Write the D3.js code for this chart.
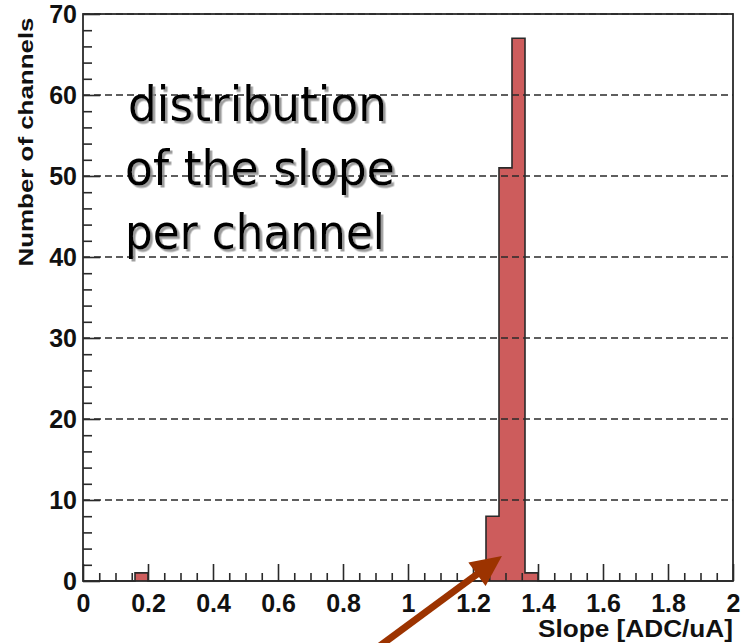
<!DOCTYPE html>
<html>
<head>
<meta charset="utf-8">
<script src="https://cdn.jsdelivr.net/npm/d3@7"></script>
<style>
  html, body { margin: 0; padding: 0; background: #fff; }
  svg { display: block; }
</style>
</head>
<body>
<svg id="chart" width="751" height="643"></svg>
<script>
// Histogram of the fitted slope per channel (ADC counts per uA), 0.04 wide bins
const binWidth = 0.04;
const binStarts = [0.16, 1.24, 1.28, 1.32, 1.36];
const binCounts = [1, 8, 51, 67, 1];

const xMajorTicks = [0, 0.2, 0.4, 0.6, 0.8, 1, 1.2, 1.4, 1.6, 1.8, 2];
const xTickLabels = ["0", "0.2", "0.4", "0.6", "0.8", "1", "1.2", "1.4", "1.6", "1.8", "2"];
const yMajorTicks = [0, 10, 20, 30, 40, 50, 60, 70];
const yTickLabels = ["0", "10", "20", "30", "40", "50", "60", "70"];

const xTitle = "Slope [ADC/uA]";
const yTitle = "Number of  channels";
const noteLines = ["distribution", "of the slope", "per channel"];

const svg = d3.select("#chart");
const frame = { left: 83, right: 733, top: 14, bottom: 581 };

const x = d3.scaleLinear().domain([0, 2]).range([frame.left, frame.right]);
const y = d3.scaleLinear().domain([0, 70]).range([frame.bottom, frame.top]);

// Drop shadow used by the annotation text
const defs = svg.append("defs");
const shadow = defs.append("filter").attr("id", "softShadow")
  .attr("x", "-5%").attr("y", "-10%").attr("width", "115%").attr("height", "130%");
shadow.append("feDropShadow")
  .attr("dx", 2.5).attr("dy", 2.5).attr("stdDeviation", 0.6)
  .attr("flood-color", "#8c8c8c").attr("flood-opacity", 0.85);

// Full set of bins across the axis range (empty bins count zero)
const nBins = Math.round(2 / binWidth);
const allBins = d3.range(nBins).map(i => {
  const lo = i * binWidth;
  const k = binStarts.findIndex(s => Math.abs(s - lo) < 1e-6);
  return { lo, count: k >= 0 ? binCounts[k] : 0 };
});

// Filled bars
svg.append("g").selectAll("rect")
  .data(binStarts.map((s, i) => ({ lo: s, count: binCounts[i] })))
  .join("rect")
  .attr("x", d => x(d.lo))
  .attr("y", d => y(d.count))
  .attr("width", d => x(d.lo + binWidth) - x(d.lo))
  .attr("height", d => y(0) - y(d.count))
  .attr("fill", "#cd5c5c");

// Step outline of the histogram
const stepPts = allBins.map(b => [b.lo, b.count]);
stepPts.push([2, allBins[nBins - 1].count]);
svg.append("path")
  .attr("d", d3.line().x(d => x(d[0])).y(d => y(d[1])).curve(d3.curveStepAfter)(stepPts))
  .attr("fill", "none")
  .attr("stroke", "#2a2a2a")
  .attr("stroke-width", 1.6);

// Dashed horizontal grid, drawn over the bars
svg.append("g").selectAll("line")
  .data(yMajorTicks.filter(v => v > 0))
  .join("line")
  .attr("x1", frame.left).attr("x2", frame.right)
  .attr("y1", d => y(d)).attr("y2", d => y(d))
  .attr("stroke", "#2a2a2a")
  .attr("stroke-width", 1.3)
  .attr("stroke-dasharray", "7,4");

const tickFont = "'Liberation Sans', Arial, sans-serif";

// X axis: minor ticks every 0.05, major every 0.2, all pointing inward
const xMinor = d3.range(0, 2.0001, 0.05).filter(v => xMajorTicks.every(m => Math.abs(m - v) > 1e-6));
svg.append("g")
  .attr("transform", `translate(0,${frame.bottom})`)
  .call(d3.axisBottom(x).tickValues(xMinor).tickSize(-8).tickFormat(""))
  .call(g => g.select(".domain").remove());
const gx = svg.append("g")
  .attr("transform", `translate(0,${frame.bottom})`)
  .call(d3.axisBottom(x).tickValues(xMajorTicks).tickSize(-17).tickPadding(13)
    .tickFormat((d, i) => xTickLabels[i]));
gx.select(".domain").remove();
gx.selectAll("text")
  .attr("font-family", tickFont).attr("font-weight", "bold")
  .attr("font-size", 25).attr("fill", "#111");

// Y axis: minor ticks every 2, major every 10
const yMinor = d3.range(0, 70.001, 2).filter(v => v % 10 !== 0);
svg.append("g")
  .attr("transform", `translate(${frame.left},0)`)
  .call(d3.axisLeft(y).tickValues(yMinor).tickSize(-9).tickFormat(""))
  .call(g => g.select(".domain").remove());
const gy = svg.append("g")
  .attr("transform", `translate(${frame.left},0)`)
  .call(d3.axisLeft(y).tickValues(yMajorTicks).tickSize(-17).tickPadding(6)
    .tickFormat((d, i) => yTickLabels[i]));
gy.select(".domain").remove();
gy.selectAll("text")
  .attr("font-family", tickFont).attr("font-weight", "bold")
  .attr("font-size", 25).attr("fill", "#111");
svg.selectAll(".tick line").attr("stroke", "#2a2a2a").attr("stroke-width", 1.6);

// Plot frame
svg.append("rect")
  .attr("x", frame.left).attr("y", frame.top)
  .attr("width", frame.right - frame.left).attr("height", frame.bottom - frame.top)
  .attr("fill", "none").attr("stroke", "#2a2a2a").attr("stroke-width", 1.8);

// Axis titles
svg.append("text")
  .attr("x", frame.right).attr("y", 637)
  .attr("text-anchor", "end")
  .attr("font-family", tickFont).attr("font-weight", "bold")
  .attr("font-size", 23).attr("fill", "#111")
  .attr("textLength", 195).attr("lengthAdjust", "spacingAndGlyphs")
  .text(xTitle);

svg.append("text")
  .attr("transform", "translate(33,142) rotate(-90)")
  .attr("text-anchor", "middle")
  .attr("font-family", tickFont).attr("font-weight", "bold")
  .attr("font-size", 20).attr("fill", "#111")
  .attr("textLength", 249).attr("lengthAdjust", "spacingAndGlyphs")
  .text(yTitle);

// Annotation text with a drop shadow
const noteBase = [121, 185, 249];
const noteWidth = [259, 270, 260];
const noteCenter = [257.5, 260, 255];
svg.append("g").attr("filter", "url(#softShadow)")
  .selectAll("text")
  .data(noteLines)
  .join("text")
  .attr("x", (d, i) => noteCenter[i])
  .attr("y", (d, i) => noteBase[i])
  .attr("text-anchor", "middle")
  .attr("font-family", "'DejaVu Sans', Verdana, sans-serif")
  .attr("font-size", 48)
  .attr("fill", "#000")
  .attr("textLength", (d, i) => noteWidth[i])
  .attr("lengthAdjust", "spacingAndGlyphs")
  .text(d => d);

// Arrow pointing at the peak of the distribution
const arrowTip = { x: 1.289, y: 3.1 };
const arrowTail = { x: 0.88, y: -9 };
const tip = [x(arrowTip.x), y(arrowTip.y)];
const tail = [x(arrowTail.x), y(arrowTail.y)];
const ang = Math.atan2(tip[1] - tail[1], tip[0] - tail[0]);
const headLen = 31, headHalf = 14.5;
const base = [tip[0] - headLen * Math.cos(ang), tip[1] - headLen * Math.sin(ang)];
const perp = [-Math.sin(ang), Math.cos(ang)];
const arrowColor = "#9c3300";
svg.append("line")
  .attr("x1", tail[0]).attr("y1", tail[1])
  .attr("x2", base[0] + 3 * Math.cos(ang)).attr("y2", base[1] + 3 * Math.sin(ang))
  .attr("stroke", arrowColor).attr("stroke-width", 7);
svg.append("path")
  .attr("d", d3.line()([
    tip,
    [base[0] + headHalf * perp[0], base[1] + headHalf * perp[1]],
    [base[0] - headHalf * perp[0], base[1] - headHalf * perp[1]]
  ]) + "Z")
  .attr("fill", arrowColor);
</script>
</body>
</html>
